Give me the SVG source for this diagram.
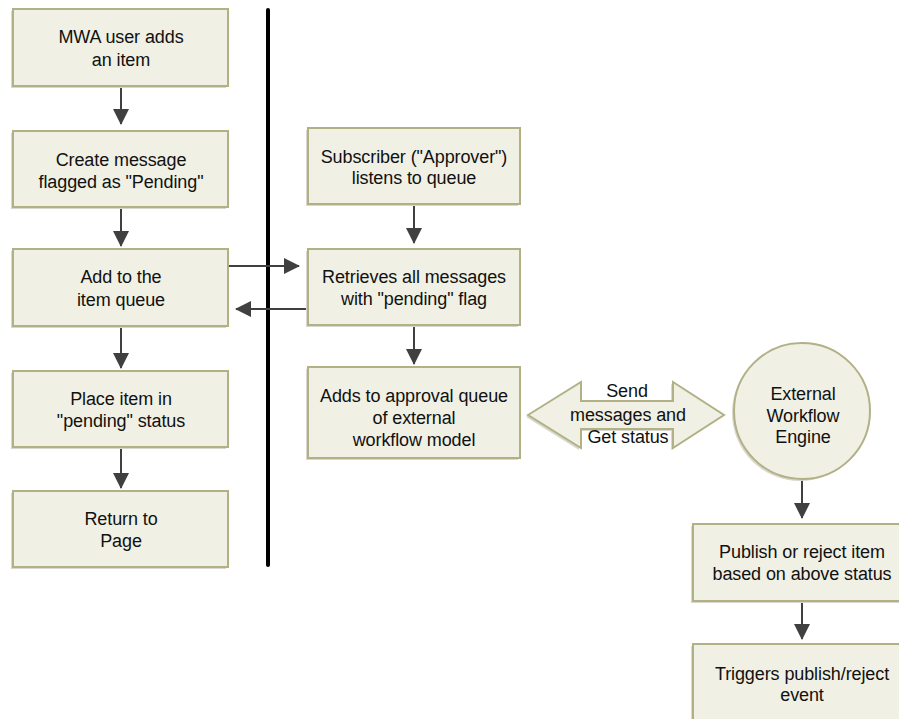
<svg xmlns="http://www.w3.org/2000/svg" width="899" height="719" viewBox="0 0 899 719">
<style>
.box{fill:#f0f0e4;stroke:#b2b186;stroke-width:2}
.sh{fill:#d8d8d0}
.t{font-family:"Liberation Sans",Arial,sans-serif;font-size:18px;fill:#111111;text-anchor:middle;letter-spacing:-0.1px}
.c{stroke:#404040;stroke-width:2;fill:none}
</style>
<defs>
<marker id="ah" viewBox="0 0 16 16" refX="15" refY="8" markerWidth="16" markerHeight="16" markerUnits="userSpaceOnUse" orient="auto">
<path d="M0,0 L16,8 L0,16 Z" fill="#404040"/>
</marker>
</defs>
<rect width="899" height="719" fill="#ffffff"/>
<line x1="268" y1="10" x2="268" y2="565" stroke="#000" stroke-width="4" stroke-linecap="round"/>
<g id="connectors">
<line class="c" x1="121" y1="86" x2="121" y2="124" marker-end="url(#ah)"/>
<line class="c" x1="121" y1="207" x2="121" y2="246" marker-end="url(#ah)"/>
<line class="c" x1="121" y1="326" x2="121" y2="368" marker-end="url(#ah)"/>
<line class="c" x1="121" y1="447" x2="121" y2="488" marker-end="url(#ah)"/>
<line class="c" x1="228" y1="266" x2="299" y2="266" marker-end="url(#ah)"/>
<line class="c" x1="308" y1="309" x2="236" y2="309" marker-end="url(#ah)"/>
<line class="c" x1="414" y1="204" x2="414" y2="243" marker-end="url(#ah)"/>
<line class="c" x1="414" y1="325" x2="414" y2="364" marker-end="url(#ah)"/>
<line class="c" x1="802" y1="479" x2="802" y2="518" marker-end="url(#ah)"/>
<line class="c" x1="802" y1="601" x2="802" y2="639" marker-end="url(#ah)"/>
</g>
<g id="n1"><rect class="sh" x="11" y="11" width="215" height="77"/><rect class="box" x="13" y="9" width="215" height="77"/><text class="t" x="121" y="43">MWA user adds</text><text class="t" x="121" y="66">an item</text></g>
<g id="n2"><rect class="sh" x="11" y="133" width="215" height="76"/><rect class="box" x="13" y="131" width="215" height="76"/><text class="t" x="121" y="166">Create message</text><text class="t" x="121" y="188">flagged as "Pending"</text></g>
<g id="n3"><rect class="sh" x="11" y="251" width="215" height="77"/><rect class="box" x="13" y="249" width="215" height="77"/><text class="t" x="121" y="283">Add to the</text><text class="t" x="121" y="306">item queue</text></g>
<g id="n4"><rect class="sh" x="11" y="373" width="215" height="76"/><rect class="box" x="13" y="371" width="215" height="76"/><text class="t" x="121" y="405">Place item in</text><text class="t" x="121" y="427">"pending" status</text></g>
<g id="n5"><rect class="sh" x="11" y="493" width="215" height="76"/><rect class="box" x="13" y="491" width="215" height="76"/><text class="t" x="121" y="525">Return to</text><text class="t" x="121" y="547">Page</text></g>
<g id="n6"><rect class="sh" x="306" y="130" width="212" height="76"/><rect class="box" x="308" y="128" width="212" height="76"/><text class="t" x="414" y="163">Subscriber ("Approver")</text><text class="t" x="414" y="184">listens to queue</text></g>
<g id="n7"><rect class="sh" x="306" y="251" width="212" height="76"/><rect class="box" x="308" y="249" width="212" height="76"/><text class="t" x="414" y="283">Retrieves all messages</text><text class="t" x="414" y="305">with "pending" flag</text></g>
<g id="n8"><rect class="sh" x="306" y="369" width="212" height="91"/><rect class="box" x="308" y="367" width="212" height="91"/><text class="t" x="414" y="402">Adds to approval queue</text><text class="t" x="414" y="424">of external</text><text class="t" x="414" y="446">workflow model</text></g>
<g id="n9"><path class="sh" d="M526,417 L579,384 L579,403 L671,403 L671,384 L722,417 L671,450 L671,431 L579,431 L579,450 Z"/><path class="box" d="M528,415 L581,382 L581,401 L673,401 L673,382 L724,415 L673,448 L673,429 L581,429 L581,448 Z"/><text class="t" x="627" y="397">Send</text><text class="t" x="628" y="421">messages and</text><text class="t" x="628" y="443">Get status</text></g>
<g id="n10"><circle class="sh" cx="800" cy="413" r="68"/><circle class="box" cx="802" cy="411" r="68"/><text class="t" x="803" y="400">External</text><text class="t" x="803" y="422">Workflow</text><text class="t" x="803" y="443">Engine</text></g>
<g id="n11"><rect class="sh" x="691" y="526" width="218" height="77"/><rect class="box" x="693" y="524" width="218" height="77"/><text class="t" x="802" y="558">Publish or reject item</text><text class="t" x="802" y="580">based on above status</text></g>
<g id="n12"><rect class="sh" x="691" y="646" width="218" height="90"/><rect class="box" x="693" y="644" width="218" height="90"/><text class="t" x="802" y="680">Triggers publish/reject</text><text class="t" x="802" y="701">event</text></g>
</svg>
